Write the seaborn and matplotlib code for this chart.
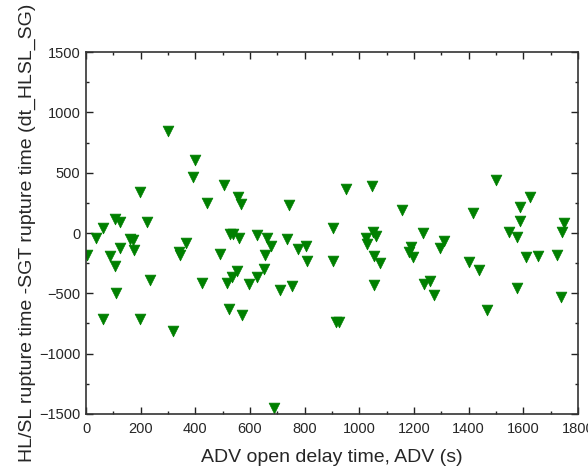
import matplotlib
matplotlib.use("Agg")
import matplotlib.pyplot as plt
import numpy as np
import pandas as pd
import seaborn as sns
from matplotlib.ticker import MultipleLocator

# ADV open delay time (s) vs. rupture time difference (s)
adv_delay = [
    5, 38, 62, 62, 88, 106, 106, 108, 124, 125, 162, 173, 175, 198, 198, 222, 233,
    300, 317, 340, 343, 365, 390, 398, 423, 441, 490, 505, 515, 522, 527, 533, 539,
    554, 557, 559, 567, 571, 595, 624, 624, 651, 653, 661, 676, 686, 708, 735, 742,
    752, 777, 803, 807, 905, 905, 914, 924, 950, 1024, 1029, 1048, 1049, 1054, 1054,
    1062, 1076, 1155, 1180, 1189, 1195, 1232, 1237, 1259, 1274, 1294, 1309, 1401,
    1414, 1436, 1468, 1499, 1549, 1578, 1578, 1589, 1589, 1611, 1625, 1655, 1723,
    1738, 1740, 1750,
]
dt_hlsl_sg = [
    -185, -38, 45, -715, -193, -273, 113, -500, 90, -125, -50, -62, -138, 342, -710,
    92, -392, 848, -815, -155, -180, -80, 460, 602, -417, 246, -172, 398, -417, -626,
    -10, -368, -12, -313, 296, -45, 240, -679, -423, -14, -362, -298, -182, -42, -108,
    -1452, -472, -46, 228, -436, -135, -108, -232, 45, -235, -740, -740, 362, -44, -95,
    386, 6, -189, -434, -21, -248, 193, -160, -119, -196, -3, -421, -395, -517, -122,
    -66, -243, 163, -307, -638, 439, 10, -36, -458, 98, 218, -203, 301, -188, -185,
    -528, 5, 80,
]

df = pd.DataFrame({"adv": adv_delay, "dt": dt_hlsl_sg})

sns.set_theme(style="ticks")
plt.rcParams["font.family"] = ["Liberation Sans", "DejaVu Sans"]

fig = plt.figure(figsize=(5.88, 4.72), dpi=100)
ax = fig.add_axes([0.1463, 0.1229, 0.8367, 0.7669])

sns.scatterplot(
    data=df, x="adv", y="dt", marker="v", s=60, color="#008000",
    edgecolor="#008000", linewidth=0.5, ax=ax, legend=False,
)

ax.set_xlim(0, 1800)
ax.set_ylim(-1500, 1500)
ax.xaxis.set_major_locator(MultipleLocator(200))
ax.xaxis.set_minor_locator(MultipleLocator(100))
ax.yaxis.set_major_locator(MultipleLocator(500))
ax.yaxis.set_minor_locator(MultipleLocator(250))
ax.tick_params(which="both", direction="in", top=True, right=True,
               labeltop=False, labelright=False, color="#222222", width=1.0)
ax.tick_params(which="major", length=5, labelsize=10.5)
ax.tick_params(axis="x", which="major", pad=6)
ax.tick_params(axis="y", which="major", pad=4)
ax.tick_params(which="minor", length=2.5)
for spine in ax.spines.values():
    spine.set_linewidth(1.2)
    spine.set_color("#333333")

ax.set_xlabel("ADV open delay time, ADV (s)", fontsize=14, labelpad=9)
ax.set_ylabel("HL/SL rupture time -SGT rupture time (dt_HLSL_SG)", fontsize=14, labelpad=2)

fig.savefig("out.png", dpi=100)
